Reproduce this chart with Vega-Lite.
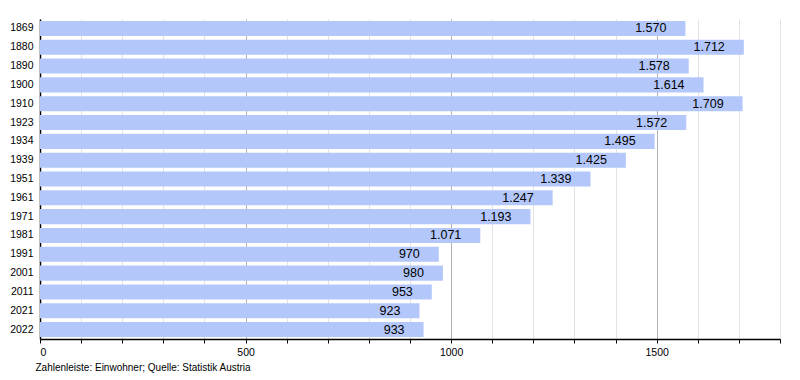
{
  "$schema": "https://vega.github.io/schema/vega-lite/v6.json",
  "autosize": "none",
  "width": 740,
  "height": 320,
  "padding": {"left": 40, "top": 19, "right": 20, "bottom": 41},
  "background": "white",
  "config": {
    "locale": {"number": {"decimal": ",", "thousands": ".", "grouping": [3], "currency": ["", " €"]}},
    "font": "Liberation Sans",
    "view": {"stroke": null}
  },
  "data": {"values": [
    {"Jahr": "1869", "Einwohner": 1570},
    {"Jahr": "1880", "Einwohner": 1712},
    {"Jahr": "1890", "Einwohner": 1578},
    {"Jahr": "1900", "Einwohner": 1614},
    {"Jahr": "1910", "Einwohner": 1709},
    {"Jahr": "1923", "Einwohner": 1572},
    {"Jahr": "1934", "Einwohner": 1495},
    {"Jahr": "1939", "Einwohner": 1425},
    {"Jahr": "1951", "Einwohner": 1339},
    {"Jahr": "1961", "Einwohner": 1247},
    {"Jahr": "1971", "Einwohner": 1193},
    {"Jahr": "1981", "Einwohner": 1071},
    {"Jahr": "1991", "Einwohner": 970},
    {"Jahr": "2001", "Einwohner": 980},
    {"Jahr": "2011", "Einwohner": 953},
    {"Jahr": "2021", "Einwohner": 923},
    {"Jahr": "2022", "Einwohner": 933}
  ]},
  "encoding": {
    "y": {
      "field": "Jahr", "type": "nominal", "sort": null,
      "scale": {"paddingInner": 0.2, "paddingOuter": 0.1},
      "axis": {"title": null, "ticks": false, "domainColor": "#000", "domainWidth": 1.5, "labelFontSize": 10.5, "labelColor": "#000", "labelPadding": 7, "grid": false}
    },
    "x": {
      "field": "Einwohner", "type": "quantitative",
      "scale": {"domain": [0, 1800], "nice": false},
      "axis": {
        "title": "Zahlenleiste: Einwohner; Quelle: Statistik Austria",
        "titleAnchor": "start", "titleAlign": "left", "titleX": -5, "titleFontSize": 10, "titleFontWeight": "normal", "titleColor": "#000", "titlePadding": 5,
        "values": [0, 100, 200, 300, 400, 500, 600, 700, 800, 900, 1000, 1100, 1200, 1300, 1400, 1500, 1600, 1700, 1800],
        "format": "d",
        "labelExpr": "datum.value % 500 === 0 ? datum.label : ''",
        "labelFontSize": 10.5, "labelColor": "#000", "labelPadding": 4,
        "domainColor": "#000", "domainWidth": 1.5,
        "tickColor": "#000", "tickSize": 4,
        "grid": true,
        "gridColor": {"condition": {"test": "datum.value % 500 === 0", "value": "#b0b0b0"}, "value": "#e2e2e2"}
      }
    }
  },
  "layer": [
    {"mark": {"type": "bar", "color": "#b3c7fb"}},
    {"mark": {"type": "text", "align": "right", "dx": -19, "fontSize": 12.5, "color": "#000", "baseline": "middle"},
     "encoding": {"text": {"field": "Einwohner", "type": "quantitative", "format": ",d"}}}
  ]
}
